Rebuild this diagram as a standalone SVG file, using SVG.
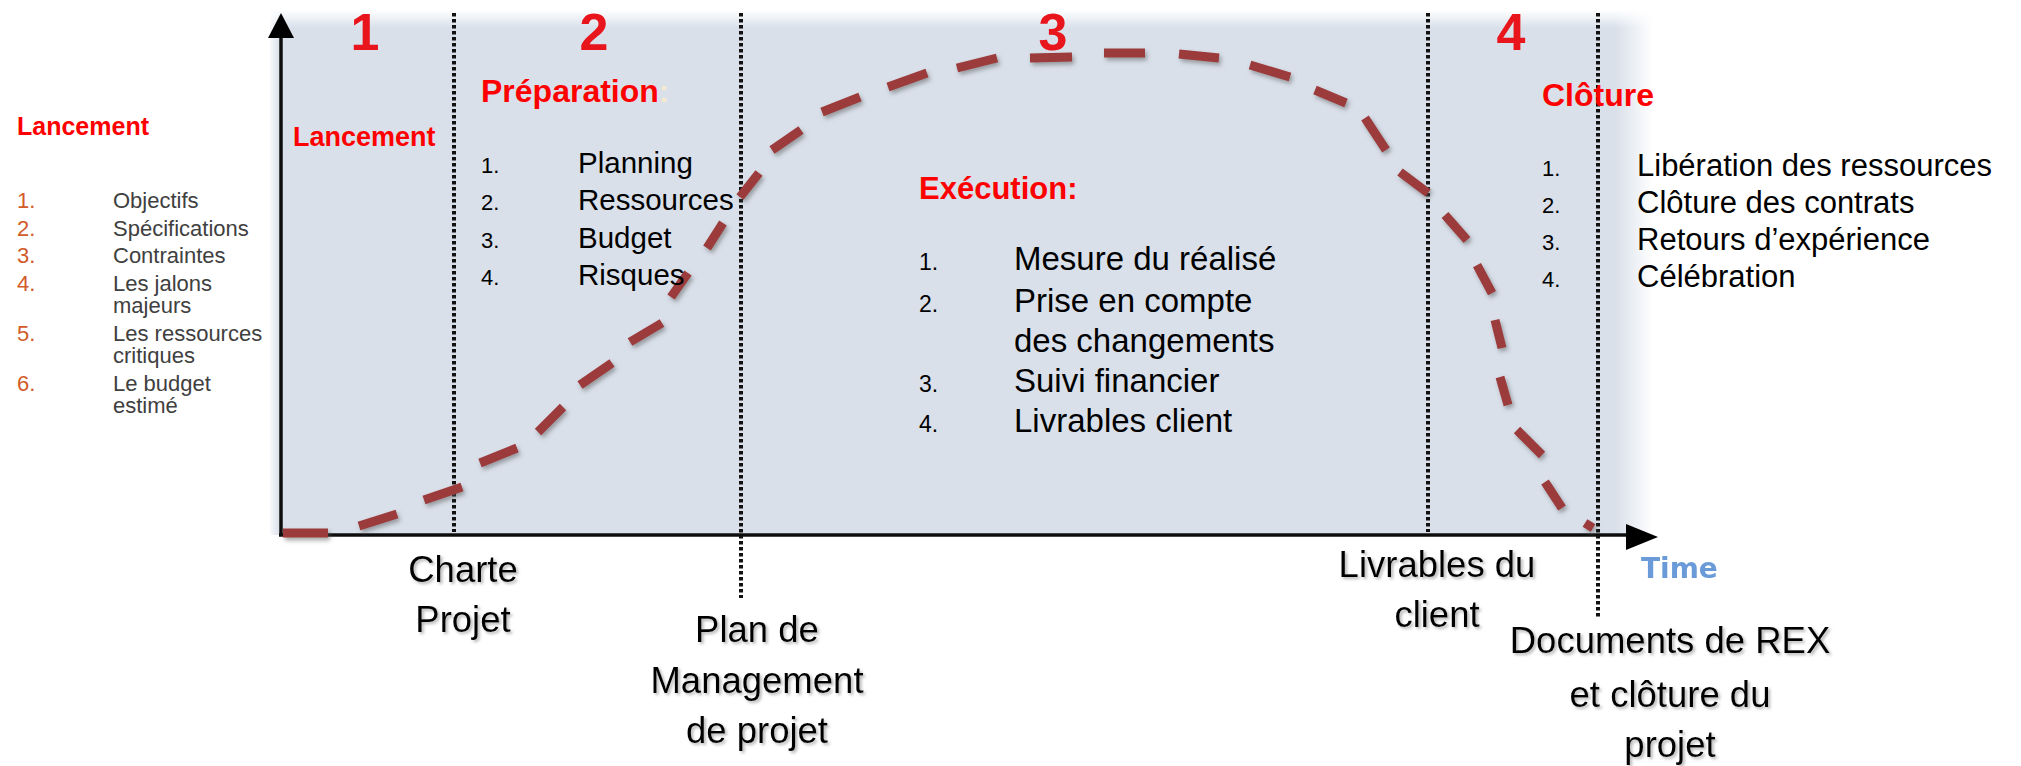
<svg xmlns="http://www.w3.org/2000/svg" width="2021" height="766" viewBox="0 0 2021 766">
<style>
.t{font-family:"Liberation Sans",Arial,sans-serif}
.red{fill:#FF0000;font-weight:bold}
.num{fill:#E8141C;font-weight:bold;font-size:52px;text-anchor:middle}
.lnum{fill:#D25B2A;font-size:22px}
.ltxt{fill:#404040;font-size:22px}
.blk{fill:#000}
.lbl{fill:#000;font-size:36.5px;text-anchor:middle}
.div{stroke:#111;stroke-width:4;stroke-dasharray:3.5 2.5;fill:none}
</style>
<defs>
<linearGradient id="fadeTop" x1="0" y1="0" x2="0" y2="1">
<stop offset="0" stop-color="#fff" stop-opacity="1"/>
<stop offset="1" stop-color="#fff" stop-opacity="0"/>
</linearGradient>
<linearGradient id="fadeRight" x1="0" y1="0" x2="1" y2="0">
<stop offset="0" stop-color="#fff" stop-opacity="0"/>
<stop offset="1" stop-color="#fff" stop-opacity="1"/>
</linearGradient>
<linearGradient id="fadeLeft" x1="0" y1="0" x2="1" y2="0">
<stop offset="0" stop-color="#fff" stop-opacity="0.8"/>
<stop offset="1" stop-color="#fff" stop-opacity="0"/>
</linearGradient>
<filter id="sh" x="-10%" y="-10%" width="130%" height="130%">
<feDropShadow dx="2" dy="2" stdDeviation="1.5" flood-color="#777" flood-opacity="0.55"/>
</filter>
<filter id="dsh" x="-20%" y="-20%" width="140%" height="140%">
<feDropShadow dx="2" dy="3" stdDeviation="2" flood-color="#555" flood-opacity="0.5"/>
</filter>
<filter id="blur" x="-10%" y="-10%" width="120%" height="120%">
<feGaussianBlur stdDeviation="0.7"/>
</filter>
</defs>
<rect width="2021" height="766" fill="#fff"/>

<g id="panel">
<rect x="270" y="10" width="1383" height="525" fill="#D9E0EA"/>
<rect x="270" y="10" width="1383" height="18" fill="url(#fadeTop)"/>
<rect x="1615" y="10" width="38" height="525" fill="url(#fadeRight)"/>
<rect x="270" y="10" width="10" height="525" fill="url(#fadeLeft)"/>
</g>

<g id="dividers">
<line class="div" x1="454" y1="13" x2="454" y2="532"/>
<line class="div" x1="741" y1="13" x2="741" y2="598"/>
<line class="div" x1="1428" y1="13" x2="1428" y2="532"/>
<line class="div" x1="1598" y1="13" x2="1598" y2="618"/>
</g>

<g id="axes" filter="url(#blur)">
<line x1="281" y1="536" x2="281" y2="36" stroke="#111" stroke-width="3.5"/>
<path d="M281,13 L294,38 L268,38 z" fill="#000"/>
<line x1="279" y1="535" x2="1630" y2="535" stroke="#111" stroke-width="3.5"/>
<path d="M1658,537 L1626,524 L1626,550 z" fill="#000"/>
</g>

<g id="connectors">
<path filter="url(#dsh)" fill="none" stroke="#9C3A3A" stroke-width="9" stroke-linecap="butt" d="M283,533 L328,533 M359,526 L397,514 M424,500 L462,487 M480,463 L517,448 M538,432 L563,407 M580,385 L612,363 M630,342 L662,323 M671,297 L688,273 M707,248 L723,223 M740,197 L759,173 M772,150 L801,130 M822,112 L860,97 M888,87 L927,73 M957,68 L997,58 M1030,58 L1072,57 M1104,53 L1145,53 M1179,54 L1219,58 M1250,65 L1290,77 M1315,90 L1346,103 M1365,118 L1386,150 M1400,172 L1428,193 M1445,215 L1467,240 M1477,265 L1492,293 M1495,320 L1502,348 M1500,377 L1508,405 M1517,430 L1542,455 M1545,482 L1562,508 M1585,523 L1593,528"/>
</g>

<g id="phase-numbers" class="t" filter="url(#blur)">
<text class="num" x="365" y="50">1</text>
<text class="num" x="594" y="50">2</text>
<text class="num" x="1053" y="50">3</text>
<text class="num" x="1511" y="50">4</text>
</g>

<g id="lancement-list" class="t">
<text class="red" x="17" y="135" font-size="25">Lancement</text>
<text class="lnum" x="17" y="208">1.</text><text class="ltxt" x="113" y="208">Objectifs</text>
<text class="lnum" x="17" y="236">2.</text><text class="ltxt" x="113" y="236">Spécifications</text>
<text class="lnum" x="17" y="263">3.</text><text class="ltxt" x="113" y="263">Contraintes</text>
<text class="lnum" x="17" y="291">4.</text><text class="ltxt" x="113" y="291">Les jalons</text>
<text class="ltxt" x="113" y="313">majeurs</text>
<text class="lnum" x="17" y="341">5.</text><text class="ltxt" x="113" y="341">Les ressources</text>
<text class="ltxt" x="113" y="363">critiques</text>
<text class="lnum" x="17" y="391">6.</text><text class="ltxt" x="113" y="391">Le budget</text>
<text class="ltxt" x="113" y="413">estimé</text>
</g>

<g id="phase-1" class="t">
<text class="red" x="293" y="146" font-size="27">Lancement</text>
</g>

<g id="phase-2" class="t">
<text class="red" x="481" y="102" font-size="32">Préparation<tspan fill="#F3EAD0">:</tspan></text>
<g class="blk" font-size="22">
<text x="481" y="173">1.</text><text x="481" y="210">2.</text><text x="481" y="248">3.</text><text x="481" y="285">4.</text>
</g>
<g class="blk" font-size="29.5">
<text x="578" y="173">Planning</text>
<text x="578" y="210">Ressources</text>
<text x="578" y="248">Budget</text>
<text x="578" y="285">Risques</text>
</g>
</g>

<g id="phase-3" class="t">
<text class="red" x="919" y="199" font-size="31">Exécution:</text>
<g class="blk" font-size="23">
<text x="919" y="270">1.</text><text x="919" y="312">2.</text><text x="919" y="392">3.</text><text x="919" y="432">4.</text>
</g>
<g class="blk" font-size="33">
<text x="1014" y="270">Mesure du réalisé</text>
<text x="1014" y="312">Prise en compte</text>
<text x="1014" y="352">des changements</text>
<text x="1014" y="392">Suivi financier</text>
<text x="1014" y="432">Livrables client</text>
</g>
</g>

<g id="phase-4" class="t">
<text class="red" x="1542" y="106" font-size="32">Clôture</text>
<g class="blk" font-size="22">
<text x="1542" y="176">1.</text><text x="1542" y="213">2.</text><text x="1542" y="250">3.</text><text x="1542" y="287">4.</text>
</g>
<g class="blk" font-size="31">
<text x="1637" y="176">Libération des ressources</text>
<text x="1637" y="213">Clôture des contrats</text>
<text x="1637" y="250">Retours d’expérience</text>
<text x="1637" y="287">Célébration</text>
</g>
</g>

<g id="deliverable-charte" class="t" filter="url(#sh)">
<text class="lbl" x="463" y="582">Charte</text>
<text class="lbl" x="463" y="632">Projet</text>
</g>
<g id="deliverable-plan" class="t" filter="url(#sh)">
<text class="lbl" x="757" y="642">Plan de</text>
<text class="lbl" x="757" y="693">Management</text>
<text class="lbl" x="757" y="743">de projet</text>
</g>
<g id="deliverable-livrables" class="t" filter="url(#sh)">
<text class="lbl" x="1437" y="577">Livrables du</text>
<text class="lbl" x="1437" y="627">client</text>
</g>
<g id="deliverable-rex" class="t" filter="url(#sh)">
<text class="lbl" x="1670" y="653">Documents de REX</text>
<text class="lbl" x="1670" y="707">et clôture du</text>
<text class="lbl" x="1670" y="757">projet</text>
</g>

<g id="time-label">
<text x="1641" y="578" font-family="DejaVu Sans, sans-serif" font-weight="bold" font-size="28" fill="#6A9BD8" filter="url(#blur)">Time</text>
</g>
</svg>
